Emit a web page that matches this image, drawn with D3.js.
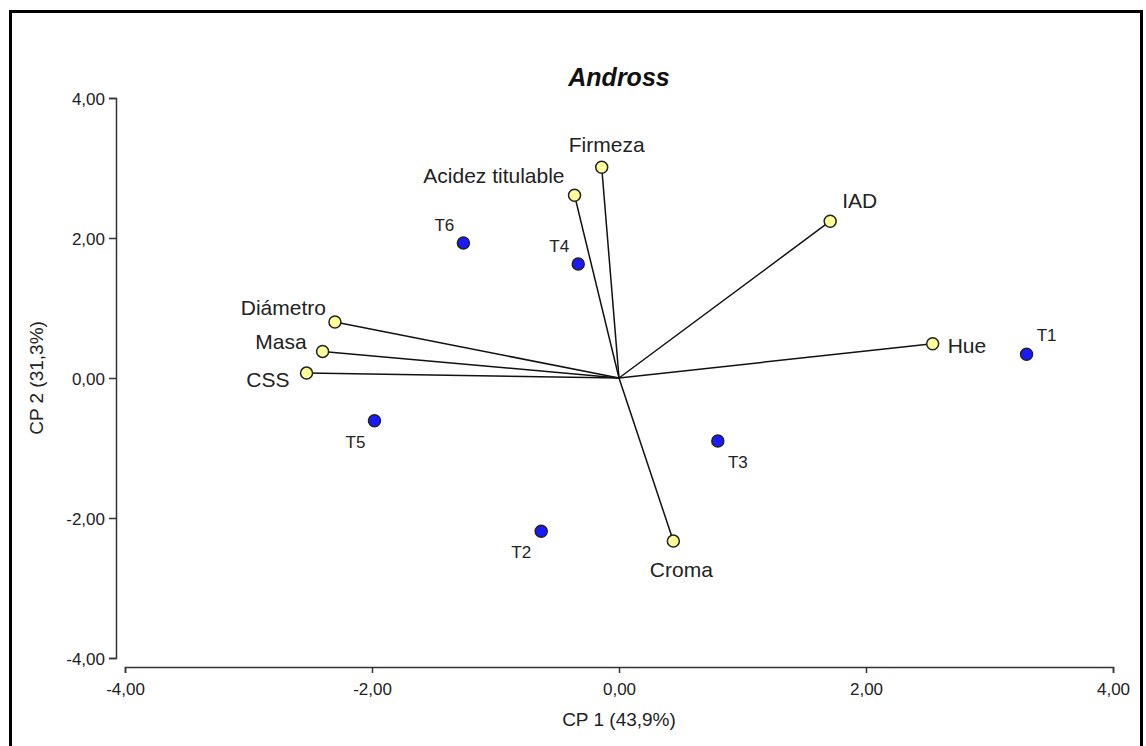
<!DOCTYPE html>
<html><head><meta charset="utf-8">
<script src="https://cdn.jsdelivr.net/npm/d3@7"></script>
<style>body{margin:0;background:#fff}svg{display:block;font-family:"Liberation Sans",Arial,sans-serif}</style>
</head><body><svg id="c" width="1146" height="746"></svg>
<script>
const varNames = ["Firmeza","Acidez titulable","IAD","Hue","Diámetro","Masa","CSS","Croma"];
const varX = [-0.14,-0.36,1.71,2.54,-2.30,-2.40,-2.53,0.44];
const varY = [3.01,2.61,2.24,0.49,0.80,0.38,0.07,-2.33];
const trtNames = ["T1","T2","T3","T4","T5","T6"];
const trtX = [3.30,-0.63,0.80,-0.33,-1.98,-1.26];
const trtY = [0.34,-2.19,-0.90,1.63,-0.61,1.93];
const ticks = [-4,-2,0,2,4];

// label placement (style, not data): [dx, dy, anchor]
const varLab = {"Firmeza":[5,-15,"middle"],"Acidez titulable":[-10,-12,"end"],"IAD":[12,-13,"start"],"Hue":[15,9,"start"],
 "Diámetro":[-9,-7,"end"],"Masa":[-16,-2,"end"],"CSS":[-17,14,"end"],"Croma":[8,36,"middle"]};
const trtLab = {"T1":[20,-13,"middle"],"T2":[-20,27,"middle"],"T3":[20,27,"middle"],"T4":[-19,-12,"middle"],"T5":[-19,27,"middle"],"T6":[-19,-12,"middle"]};

const svg = d3.select("#c");
svg.append("rect").attr("x",10.5).attr("y",11.5).attr("width",1131).attr("height",760).attr("fill","none").attr("stroke","#000").attr("stroke-width",3);

const x = d3.scaleLinear().domain([-4,4]).range([125,1113]);
const y = d3.scaleLinear().domain([-4,4]).range([658,98]);
const fmt = d => d3.format(".2f")(d).replace(".",",").replace("\u2212","-");

const xa = svg.append("g").attr("transform","translate(0,667)")
 .call(d3.axisBottom(x).tickValues(ticks).tickFormat(fmt).tickSizeOuter(0).tickSize(6));
const ya = svg.append("g").attr("transform","translate(116,0)")
 .call(d3.axisLeft(y).tickValues(ticks).tickFormat(fmt).tickSizeOuter(0).tickSize(7));
[xa,ya].forEach(a=>{
 a.selectAll("path,line").attr("stroke","#333").attr("stroke-width",1.5);
 a.selectAll("text").attr("font-size",17).attr("fill","#222").attr("font-family","Liberation Sans, Arial, sans-serif");
});
xa.selectAll("text").attr("y",9).attr("dy","19px");
ya.selectAll("text").attr("x",-11).attr("dy","6px");

svg.append("text").attr("x",619).attr("y",86).attr("text-anchor","middle").attr("font-size",25)
 .attr("font-weight","bold").attr("font-style","italic").attr("fill","#111").text("Andross");
svg.append("text").attr("x",619).attr("y",726).attr("text-anchor","middle").attr("font-size",19).attr("fill","#222").text("CP 1 (43,9%)");
svg.append("text").attr("transform","translate(43,378) rotate(-90)").attr("text-anchor","middle").attr("font-size",19).attr("fill","#222").text("CP 2 (31,3%)");

const vars = varNames.map((n,i)=>({n,x:varX[i],y:varY[i]}));
const trts = trtNames.map((n,i)=>({n,x:trtX[i],y:trtY[i]}));

svg.append("g").selectAll("line").data(vars).join("line")
 .attr("x1",x(0)).attr("y1",y(0)).attr("x2",d=>x(d.x)).attr("y2",d=>y(d.y))
 .attr("stroke","#111").attr("stroke-width",1.5);

svg.append("g").selectAll("circle").data(vars).join("circle")
 .attr("cx",d=>x(d.x)).attr("cy",d=>y(d.y)).attr("r",6)
 .attr("fill","#ffff99").attr("stroke","#222").attr("stroke-width",1.5);
svg.append("g").selectAll("circle").data(trts).join("circle")
 .attr("cx",d=>x(d.x)).attr("cy",d=>y(d.y)).attr("r",6)
 .attr("fill","#1a1aff").attr("stroke","#222").attr("stroke-width",1.5);

svg.append("g").selectAll("text").data(vars).join("text")
 .attr("x",d=>x(d.x)+varLab[d.n][0]).attr("y",d=>y(d.y)+varLab[d.n][1])
 .attr("text-anchor",d=>varLab[d.n][2]).attr("font-size",21).attr("fill","#222").text(d=>d.n);
svg.append("g").selectAll("text").data(trts).join("text")
 .attr("x",d=>x(d.x)+trtLab[d.n][0]).attr("y",d=>y(d.y)+trtLab[d.n][1])
 .attr("text-anchor",d=>trtLab[d.n][2]).attr("font-size",17).attr("fill","#222").text(d=>d.n);
</script></body></html>
